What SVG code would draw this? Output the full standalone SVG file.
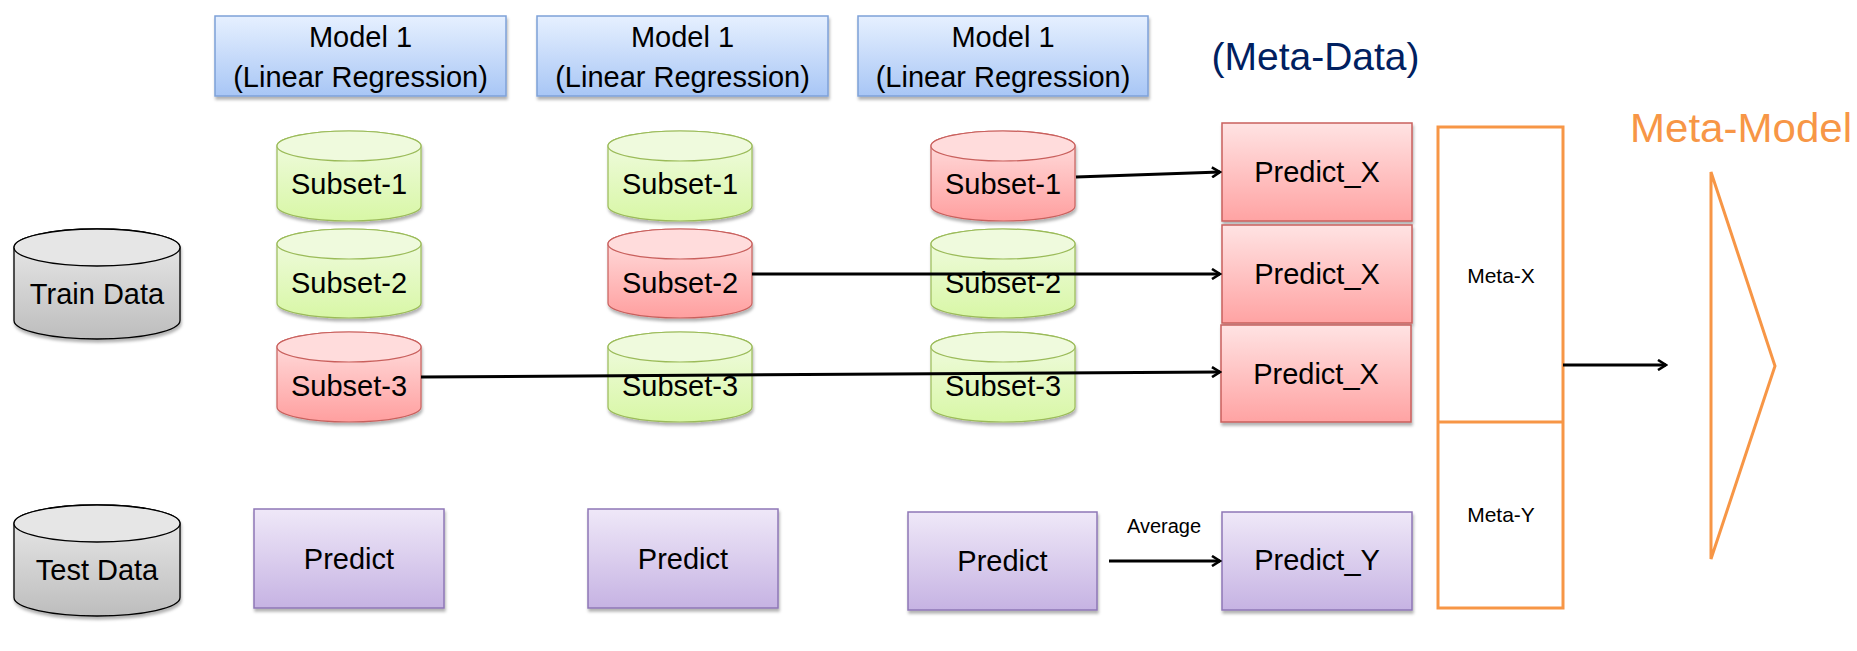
<svg xmlns="http://www.w3.org/2000/svg" width="1857" height="651" viewBox="0 0 1857 651">
<style>
text{font-family:"Liberation Sans",Arial,sans-serif;fill:#000;text-anchor:middle}
.t29{font-size:29px}
.t21{font-size:21px}
.g{fill:url(#gGreen);stroke:#9BBB59;stroke-width:1.2}
.gt{fill:#EFFADD;stroke:#9BBB59;stroke-width:1.2}
.r{fill:url(#gRed);stroke:#C9605D;stroke-width:1.2}
.rt{fill:#FFDCDC;stroke:#C9605D;stroke-width:1.2}
.k{fill:url(#gGray);stroke:#000;stroke-width:1.3}
.kt{fill:#E6E6E6;stroke:#000;stroke-width:1.3}
.blue{fill:url(#gBlue);stroke:#7EA1D8;stroke-width:1.5}
.pur{fill:url(#gPur);stroke:#8E77B6;stroke-width:1.5}
.pink{fill:url(#gPink);stroke:#C9605D;stroke-width:1.5}
.or{fill:none;stroke:#F79646;stroke-width:3}
.arr{stroke:#000;stroke-width:3;fill:none;marker-end:url(#ah)}
.sh{filter:url(#shadow)}
</style>
<defs>
<linearGradient id="gGreen" x1="0" y1="0" x2="0" y2="1"><stop offset="0" stop-color="#F2FBE4"/><stop offset="1" stop-color="#D8F7A6"/></linearGradient>
<linearGradient id="gRed" x1="0" y1="0" x2="0" y2="1"><stop offset="0" stop-color="#FFE3E3"/><stop offset="1" stop-color="#FF9F9F"/></linearGradient>
<linearGradient id="gPink" x1="0" y1="0" x2="0" y2="1"><stop offset="0" stop-color="#FFE3E3"/><stop offset="1" stop-color="#FFA3A3"/></linearGradient>
<linearGradient id="gGray" x1="0" y1="0" x2="0" y2="1"><stop offset="0" stop-color="#ECECEC"/><stop offset="1" stop-color="#BDBDBD"/></linearGradient>
<linearGradient id="gBlue" x1="0" y1="0" x2="0" y2="1"><stop offset="0" stop-color="#E6F0FF"/><stop offset="1" stop-color="#A8C6F5"/></linearGradient>
<linearGradient id="gPur" x1="0" y1="0" x2="0" y2="1"><stop offset="0" stop-color="#EFE8F8"/><stop offset="1" stop-color="#C6B3E3"/></linearGradient>
<filter id="shadow" x="-10%" y="-10%" width="125%" height="130%"><feDropShadow dx="1" dy="3" stdDeviation="1.6" flood-color="#000" flood-opacity="0.3"/></filter>
<marker id="ah" markerWidth="12" markerHeight="12" refX="10" refY="6" orient="auto" markerUnits="userSpaceOnUse"><path d="M2,1 L10,6 L2,11" fill="none" stroke="#000" stroke-width="2.6"/></marker>
</defs>

<g id="model-1"><rect class="blue sh" x="215" y="16" width="291" height="80"/><text class="t29" x="360.5" y="47">Model 1</text><text class="t29" x="360.5" y="87">(Linear Regression)</text></g>
<g id="model-2"><rect class="blue sh" x="537" y="16" width="291" height="80"/><text class="t29" x="682.5" y="47">Model 1</text><text class="t29" x="682.5" y="87">(Linear Regression)</text></g>
<g id="model-3"><rect class="blue sh" x="858" y="16" width="290" height="80"/><text class="t29" x="1003" y="47">Model 1</text><text class="t29" x="1003" y="87">(Linear Regression)</text></g>

<g id="meta-data-label"><text x="1315.5" y="70" style="font-size:39px;fill:#002060">(Meta-Data)</text></g>

<g id="train-data"><path class="k sh" d="M14,247.5 L14,320.5 A83,18.5 0 0 0 180,320.5 L180,247.5 A83,18.5 0 0 0 14,247.5 Z"/><ellipse class="kt" cx="97" cy="247.5" rx="83" ry="18.5"/><text class="t29" x="97" y="304">Train Data</text></g>
<g id="test-data"><path class="k sh" d="M14,523.5 L14,597.5 A83,18.5 0 0 0 180,597.5 L180,523.5 A83,18.5 0 0 0 14,523.5 Z"/><ellipse class="kt" cx="97" cy="523.5" rx="83" ry="18.5"/><text class="t29" x="97" y="580">Test Data</text></g>

<g id="c1-subset-1"><path class="g sh" d="M277,146 L277,206 A72,15 0 0 0 421,206 L421,146 A72,15 0 0 0 277,146 Z"/><ellipse class="gt" cx="349" cy="146" rx="72" ry="15"/><text class="t29" x="349" y="194">Subset-1</text></g>
<g id="c1-subset-2"><path class="g sh" d="M277,244 L277,303 A72,15 0 0 0 421,303 L421,244 A72,15 0 0 0 277,244 Z"/><ellipse class="gt" cx="349" cy="244" rx="72" ry="15"/><text class="t29" x="349" y="293">Subset-2</text></g>
<g id="c1-subset-3"><path class="r sh" d="M277,347 L277,407 A72,15 0 0 0 421,407 L421,347 A72,15 0 0 0 277,347 Z"/><ellipse class="rt" cx="349" cy="347" rx="72" ry="15"/><text class="t29" x="349" y="396">Subset-3</text></g>

<g id="c2-subset-1"><path class="g sh" d="M608,146 L608,206 A72,15 0 0 0 752,206 L752,146 A72,15 0 0 0 608,146 Z"/><ellipse class="gt" cx="680" cy="146" rx="72" ry="15"/><text class="t29" x="680" y="194">Subset-1</text></g>
<g id="c2-subset-2"><path class="r sh" d="M608,244 L608,303 A72,15 0 0 0 752,303 L752,244 A72,15 0 0 0 608,244 Z"/><ellipse class="rt" cx="680" cy="244" rx="72" ry="15"/><text class="t29" x="680" y="293">Subset-2</text></g>
<g id="c2-subset-3"><path class="g sh" d="M608,347 L608,407 A72,15 0 0 0 752,407 L752,347 A72,15 0 0 0 608,347 Z"/><ellipse class="gt" cx="680" cy="347" rx="72" ry="15"/><text class="t29" x="680" y="396">Subset-3</text></g>

<g id="c3-subset-1"><path class="r sh" d="M931,146 L931,206 A72,15 0 0 0 1075,206 L1075,146 A72,15 0 0 0 931,146 Z"/><ellipse class="rt" cx="1003" cy="146" rx="72" ry="15"/><text class="t29" x="1003" y="194">Subset-1</text></g>
<g id="c3-subset-2"><path class="g sh" d="M931,244 L931,303 A72,15 0 0 0 1075,303 L1075,244 A72,15 0 0 0 931,244 Z"/><ellipse class="gt" cx="1003" cy="244" rx="72" ry="15"/><text class="t29" x="1003" y="293">Subset-2</text></g>
<g id="c3-subset-3"><path class="g sh" d="M931,347 L931,407 A72,15 0 0 0 1075,407 L1075,347 A72,15 0 0 0 931,347 Z"/><ellipse class="gt" cx="1003" cy="347" rx="72" ry="15"/><text class="t29" x="1003" y="396">Subset-3</text></g>

<g id="predict-1"><rect class="pur sh" x="254" y="509" width="190" height="99"/><text class="t29" x="349" y="569">Predict</text></g>
<g id="predict-2"><rect class="pur sh" x="588" y="509" width="190" height="99"/><text class="t29" x="683" y="569">Predict</text></g>
<g id="predict-3"><rect class="pur sh" x="908" y="512" width="189" height="98"/><text class="t29" x="1002.5" y="571">Predict</text></g>

<g id="predict-x-1"><rect class="pink sh" x="1222" y="123" width="190" height="98"/><text class="t29" x="1317" y="182">Predict_X</text></g>
<g id="predict-x-2"><rect class="pink sh" x="1222" y="225" width="190" height="98"/><text class="t29" x="1317" y="284">Predict_X</text></g>
<g id="predict-x-3"><rect class="pink sh" x="1221" y="325" width="190" height="97"/><text class="t29" x="1316" y="384">Predict_X</text></g>
<g id="predict-y"><rect class="pur sh" x="1222" y="512" width="190" height="98"/><text class="t29" x="1317" y="570">Predict_Y</text></g>

<g id="meta-table"><rect class="or" x="1438" y="127" width="125" height="481"/><line class="or" x1="1438" y1="422" x2="1563" y2="422"/><text class="t21" x="1501" y="283">Meta-X</text><text class="t21" x="1501" y="522">Meta-Y</text></g>

<g id="meta-model"><text x="1741" y="142" style="font-size:40px;fill:#F79646" textLength="222" lengthAdjust="spacingAndGlyphs">Meta-Model</text><polygon class="or" points="1711,172 1775,366 1711,559"/></g>

<g id="connectors">
<line class="arr" x1="1076" y1="177" x2="1220" y2="172"/>
<line class="arr" x1="752" y1="274" x2="1220" y2="274"/>
<line class="arr" x1="421" y1="377" x2="1220" y2="372"/>
<line class="arr" x1="1109" y1="561" x2="1220" y2="561"/>
<text x="1164" y="533" style="font-size:20px">Average</text>
<line class="arr" x1="1563" y1="365" x2="1666" y2="365"/>
</g>
</svg>
